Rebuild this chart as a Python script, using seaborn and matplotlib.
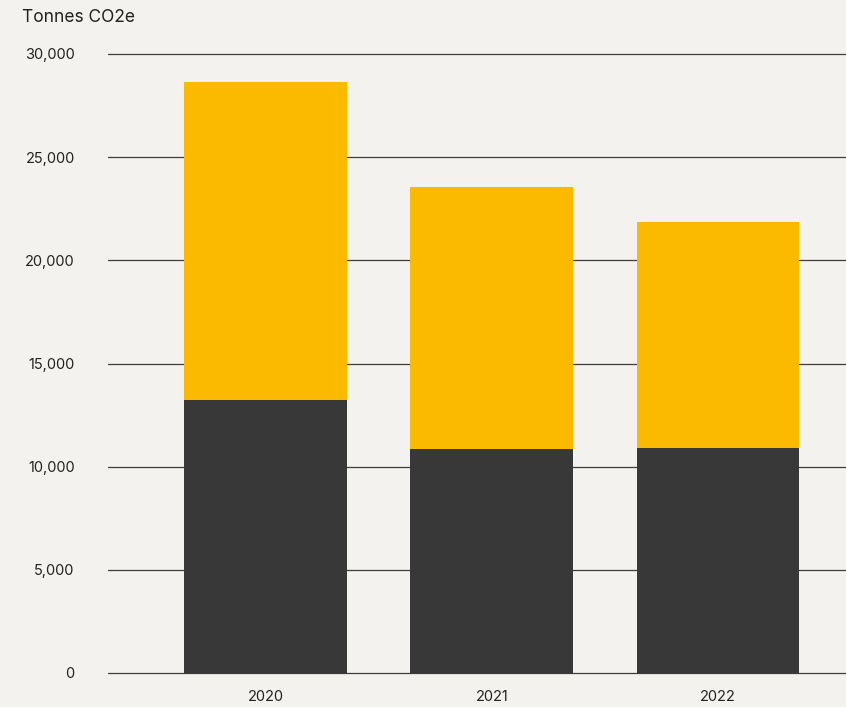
import pandas as pd
import matplotlib.pyplot as plt
import seaborn as sns
from matplotlib.ticker import FuncFormatter

# Data
years = ['2020', '2021', '2022']
dark_values = [13230, 10860, 10910]
yellow_values = [15420, 12700, 10950]

totals = [d + y for d, y in zip(dark_values, yellow_values)]
df = pd.DataFrame({'Year': years, 'Dark': dark_values, 'Total': totals})

bg = '#f3f2ee'
sns.set_style('white')
plt.rcParams['font.family'] = ['Inter', 'DejaVu Sans']

fig = plt.figure(figsize=(8.46, 7.07), dpi=100, facecolor=bg)
ax = fig.add_axes([108 / 846, 34 / 707, 1 - 108 / 846, 619 / 707])
ax.set_facecolor(bg)

# Stacked bars: total in yellow, dark part drawn over it
sns.barplot(data=df, x='Year', y='Total', color='#fbb900', width=0.72,
            saturation=1, linewidth=0, ax=ax, zorder=3)
sns.barplot(data=df, x='Year', y='Dark', color='#383838', width=0.72,
            saturation=1, linewidth=0, ax=ax, zorder=3)

ax.set_ylim(0, 30000)
ax.set_xlim(-0.697, 2.566)
ax.set_yticks(range(0, 30001, 5000))
ax.yaxis.set_major_formatter(FuncFormatter(lambda v, p: f'{int(v):,}'))
ax.grid(axis='y', color='#3c3c3c', linewidth=0.9, zorder=0)
for line in ax.get_ygridlines():
    line.set_clip_on(False)
for s in ax.spines.values():
    s.set_visible(False)

ax.tick_params(axis='y', length=0, pad=24, labelsize=10.5, labelcolor='#222222')
ax.tick_params(axis='x', length=0, pad=12, labelsize=10.5, labelcolor='#222222')
ax.set_xlabel('')
ax.set_ylabel('')

fig.text(22 / 846, 1 - 18 / 707, 'Tonnes CO2e', fontsize=12.5, color='#222222',
         ha='left', va='center')

fig.savefig('out.png', dpi=100, facecolor=bg)
